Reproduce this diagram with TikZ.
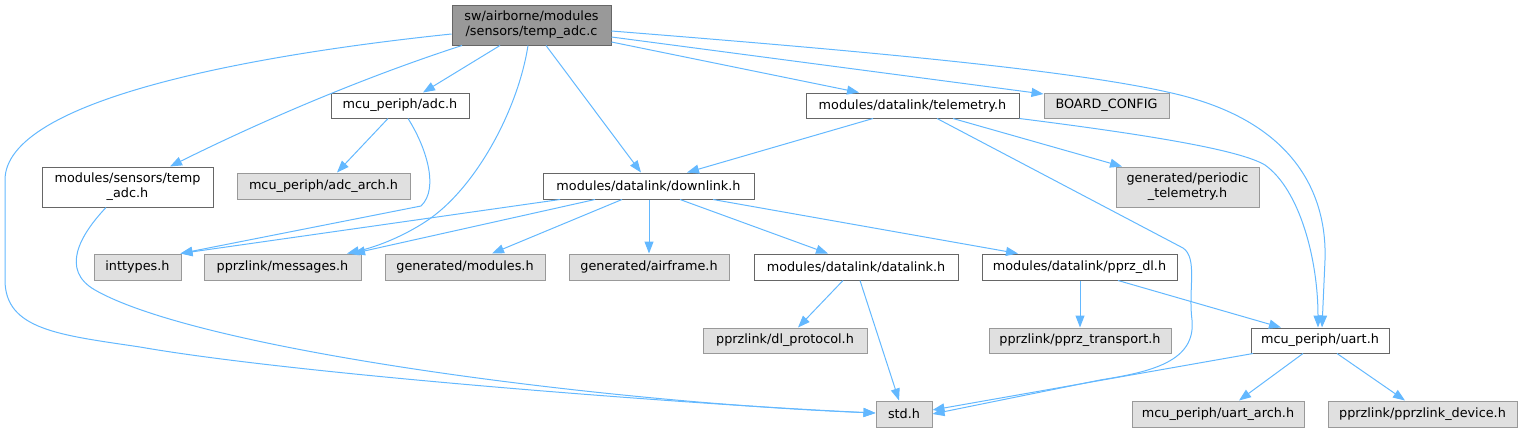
\documentclass[tikz,border=0pt]{standalone}
\usepackage{fontspec}
\setmainfont{DejaVu Sans}
\usetikzlibrary{arrows.meta}
\definecolor{edgec}{HTML}{63B8FF}
\definecolor{rootfill}{HTML}{999999}
\definecolor{darkborder}{HTML}{666666}
\definecolor{grayfill}{HTML}{E0E0E0}
\definecolor{grayborder}{HTML}{999999}
\begin{document}
\begin{tikzpicture}[x=1pt,y=-1pt,
  base/.style={rectangle, inner sep=0pt, line width=1pt, font=\fontsize{12.8}{15}\selectfont, align=center, text=black},
  sz/.style 2 args={minimum width=#1pt, minimum height=#2pt},
  rootbox/.style={base, fill=rootfill, draw=darkborder},
  whitebox/.style={base, fill=white, draw=darkborder},
  graybox/.style={base, fill=grayfill, draw=grayborder},
  edge/.style={draw=edgec, line width=1pt, -{Triangle[length=12pt,width=9pt]}}
]
\useasboundingbox (0,0) rectangle (1531,432);

% nodes
\node[rootbox, sz={159}{40}] (root) at (531.5,25) {sw/airborne/modules\\/sensors/temp\_adc.c};
\node[whitebox, sz={138}{25}] (adc) at (400,105.5) {mcu\_periph/adc.h};
\node[whitebox, sz={213}{25}] (telem) at (912.5,105.5) {modules/datalink/telemetry.h};
\node[graybox, sz={125}{25}] (board) at (1106.5,105.5) {BOARD\_CONFIG};
\node[whitebox, sz={171}{40}] (tempadc) at (127.5,187) {modules/sensors/temp\\\_adc.h};
\node[graybox, sz={173}{26}] (adcarch) at (323.5,186) {mcu\_periph/adc\_arch.h};
\node[whitebox, sz={211}{26}] (downlink) at (648.5,186) {modules/datalink/downlink.h};
\node[graybox, sz={143}{40}] (periodic) at (1187.5,187) {generated/periodic\\\_telemetry.h};
\node[graybox, sz={87}{26}] (inttypes) at (137.5,267) {inttypes.h};
\node[graybox, sz={157}{26}] (messages) at (282.5,267) {pprzlink/messages.h};
\node[graybox, sz={160}{26}] (genmod) at (465,267) {generated/modules.h};
\node[graybox, sz={160}{26}] (airframe) at (649,267) {generated/airframe.h};
\node[whitebox, sz={204}{26}] (datalink) at (856,267) {modules/datalink/datalink.h};
\node[whitebox, sz={195}{26}] (pprzdl) at (1079.5,267) {modules/datalink/pprz\_dl.h};
\node[graybox, sz={164}{25}] (dlproto) at (785,340.5) {pprzlink/dl\_protocol.h};
\node[graybox, sz={182}{25}] (pprztrans) at (1080,340.5) {pprzlink/pprz\_transport.h};
\node[whitebox, sz={138}{25}] (uart) at (1320,340.5) {mcu\_periph/uart.h};
\node[graybox, sz={56}{26}] (std) at (904,414) {std.h};
\node[graybox, sz={172}{26}] (uartarch) at (1218,414) {mcu\_periph/uart\_arch.h};
\node[graybox, sz={189}{26}] (pprzdev) at (1422.5,414) {pprzlink/pprzlink\_device.h};

% edges from root
\path[edge] ([yshift=-9pt]root.west) .. controls (250,55) and (5,100) .. (5,180) -- (5,280)
  .. controls (5,330) and (60,335) .. (140,347) .. controls (300,375) and (700,405) .. ([yshift=1pt]std.west);
\path[edge] ([xshift=-69.5pt]root.south) .. controls (380,72) and (280,112) .. ([xshift=42.5pt]tempadc.north);
\path[edge] ([xshift=-31.5pt]root.south) -- ([xshift=23pt]adc.north);
\path[edge] ([xshift=-3.5pt]root.south) .. controls (518,110) and (475,190) .. (425,222)
  .. controls (405,235) and (380,246) .. ([xshift=64.5pt]messages.north);
\path[edge] ([xshift=14.5pt]root.south) -- ([xshift=-7.5pt]downlink.north);
\path[edge] ([yshift=-17pt]root.east) -- ([xshift=-53.5pt]telem.north);
\path[edge] ([yshift=-12pt]root.east) -- ([yshift=11.5pt]board.west);
\path[edge] ([yshift=-6pt]root.east) .. controls (850,50) and (1080,70) .. (1180,95)
  .. controls (1300,125) and (1327,200) .. (1325,260) -- ([xshift=2pt]uart.north);

% adc.h
\path[edge] ([xshift=-12pt]adc.south) -- ([xshift=13.5pt]adcarch.north);
\path[edge] ([xshift=8pt]adc.south) .. controls (425,145) and (440,188) .. (421,206) -- ([xshift=-1pt]inttypes.north east);

% temp_adc.h
\path[edge] ([xshift=-21.5pt]tempadc.south) .. controls (80,235) and (60,270) .. (95,290)
  .. controls (200,350) and (600,402) .. ([yshift=1pt]std.west);

% telemetry.h
\path[edge] ([xshift=-39.5pt]telem.south) -- ([xshift=38.5pt]downlink.north);
\path[edge] ([xshift=40.5pt]telem.south) -- ([xshift=-65.5pt]periodic.north);
\path[edge] ([xshift=24.5pt]telem.south) -- (1183,248) .. controls (1198,258) and (1188,290) .. (1192,320)
  .. controls (1196,362) and (1150,372) .. (1100,380) -- (std.east);
\path[edge] (telem.south east) .. controls (1150,135) and (1240,150) .. (1265,165)
  .. controls (1300,190) and (1318,260) .. ([xshift=-2pt]uart.north);

% downlink.h
\path[edge] ([xshift=-88.5pt]downlink.south) -- ([xshift=-1pt]inttypes.north east);
\path[edge] ([xshift=-53.5pt]downlink.south) -- ([xshift=70.5pt]messages.north);
\path[edge] ([xshift=-26.5pt]downlink.south) -- ([xshift=27pt]genmod.north);
\path[edge] ([xshift=0.5pt]downlink.south) -- (airframe.north);
\path[edge] ([xshift=31.5pt]downlink.south) -- ([xshift=-28pt]datalink.north);
\path[edge] ([xshift=64.5pt]downlink.south) -- ([xshift=-61.5pt]pprzdl.north);

% datalink.h
\path[edge] ([xshift=-13pt]datalink.south) -- ([xshift=13pt]dlproto.north);
\path[edge] ([xshift=4pt]datalink.south) -- ([xshift=-5pt]std.north);

% pprz_dl.h
\path[edge] ([xshift=0.5pt]pprzdl.south) -- (pprztrans.north);
\path[edge] ([xshift=38.5pt]pprzdl.south) -- ([xshift=-39pt]uart.north);

% uart.h
\path[edge] ([xshift=-67pt]uart.south) -- ([yshift=4pt]std.east);
\path[edge] ([xshift=-17pt]uart.south) -- ([xshift=21pt]uartarch.north);
\path[edge] ([xshift=17pt]uart.south) -- ([xshift=-17.5pt]pprzdev.north);
\end{tikzpicture}
\end{document}
